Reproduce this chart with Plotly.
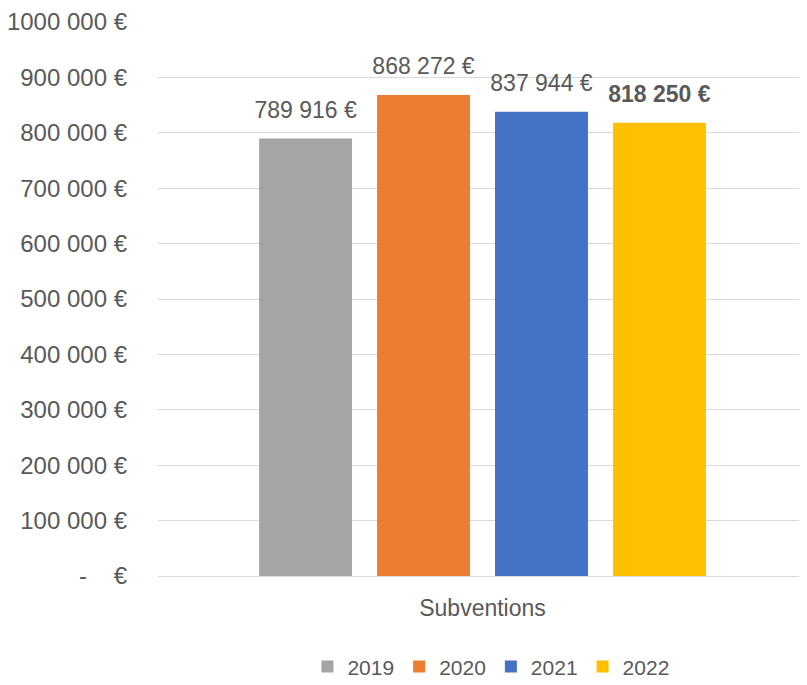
import plotly.graph_objects as go

category = ["Subventions"]
years = ["2019", "2020", "2021", "2022"]
values = [789916, 868272, 837944, 818250]
colors = ["#A5A5A5", "#ED7D31", "#4472C4", "#FFC000"]
bold = [False, False, False, True]

tick_vals = [0, 100000, 200000, 300000, 400000, 500000, 600000, 700000, 800000, 900000, 1000000]
tick_text = ["-    €", "100 000 €", "200 000 €", "300 000 €", "400 000 €", "500 000 €",
             "600 000 €", "700 000 €", "800 000 €", "900 000 €", "1000 000 €"]

def fmt(v):
    return f"{v:,}".replace(",", " ") + " €"

FONT = "Liberation Sans"
GREY = "#595959"
FS = 23
GAP = 0.273

fig = go.Figure()
for y, v, c in zip(years, values, colors):
    fig.add_trace(go.Bar(
        x=category, y=[v], name=y,
        marker=dict(color=c, line=dict(width=0)),
        hoverinfo="skip",
    ))
for y, v, b in zip(years, values, bold):
    label = fmt(v)
    if b:
        label = "<b>" + label + "</b>"
    fig.add_trace(go.Scatter(
        x=category, y=[v], name=y + " label", mode="markers+text",
        marker=dict(size=22, opacity=0), text=[label], textposition="top center",
        textfont=dict(family=FONT, size=FS, color=GREY), cliponaxis=False,
        showlegend=False, hoverinfo="skip",
    ))

fig.update_layout(
    width=799, height=677,
    margin=dict(l=150, r=0, t=14, b=109, autoexpand=False),
    paper_bgcolor="white", plot_bgcolor="white",
    barmode="group", bargap=GAP, bargroupgap=0.212,
    scattermode="group", scattergap=GAP,
    font=dict(family=FONT, size=FS, color=GREY),
    showlegend=True,
    legend=dict(orientation="h", x=0.513, xanchor="center", y=-0.164, yanchor="middle",
                font=dict(family=FONT, size=21, color=GREY), traceorder="normal",
                itemwidth=30),
)
fig.update_yaxes(range=[0, 1000000], tickvals=tick_vals, ticktext=tick_text,
                 showgrid=True, gridcolor="#D9D9D9", gridwidth=1, zeroline=True,
                 zerolinecolor="#D9D9D9", zerolinewidth=1, showline=False, ticks="",
                 ticklabelstandoff=30, automargin=False,
                 tickfont=dict(family=FONT, size=24, color=GREY))
fig.update_xaxes(showline=False, ticks="", ticklabelstandoff=16, automargin=False,
                 tickfont=dict(family=FONT, size=FS, color=GREY))

fig.write_html("out.html")
